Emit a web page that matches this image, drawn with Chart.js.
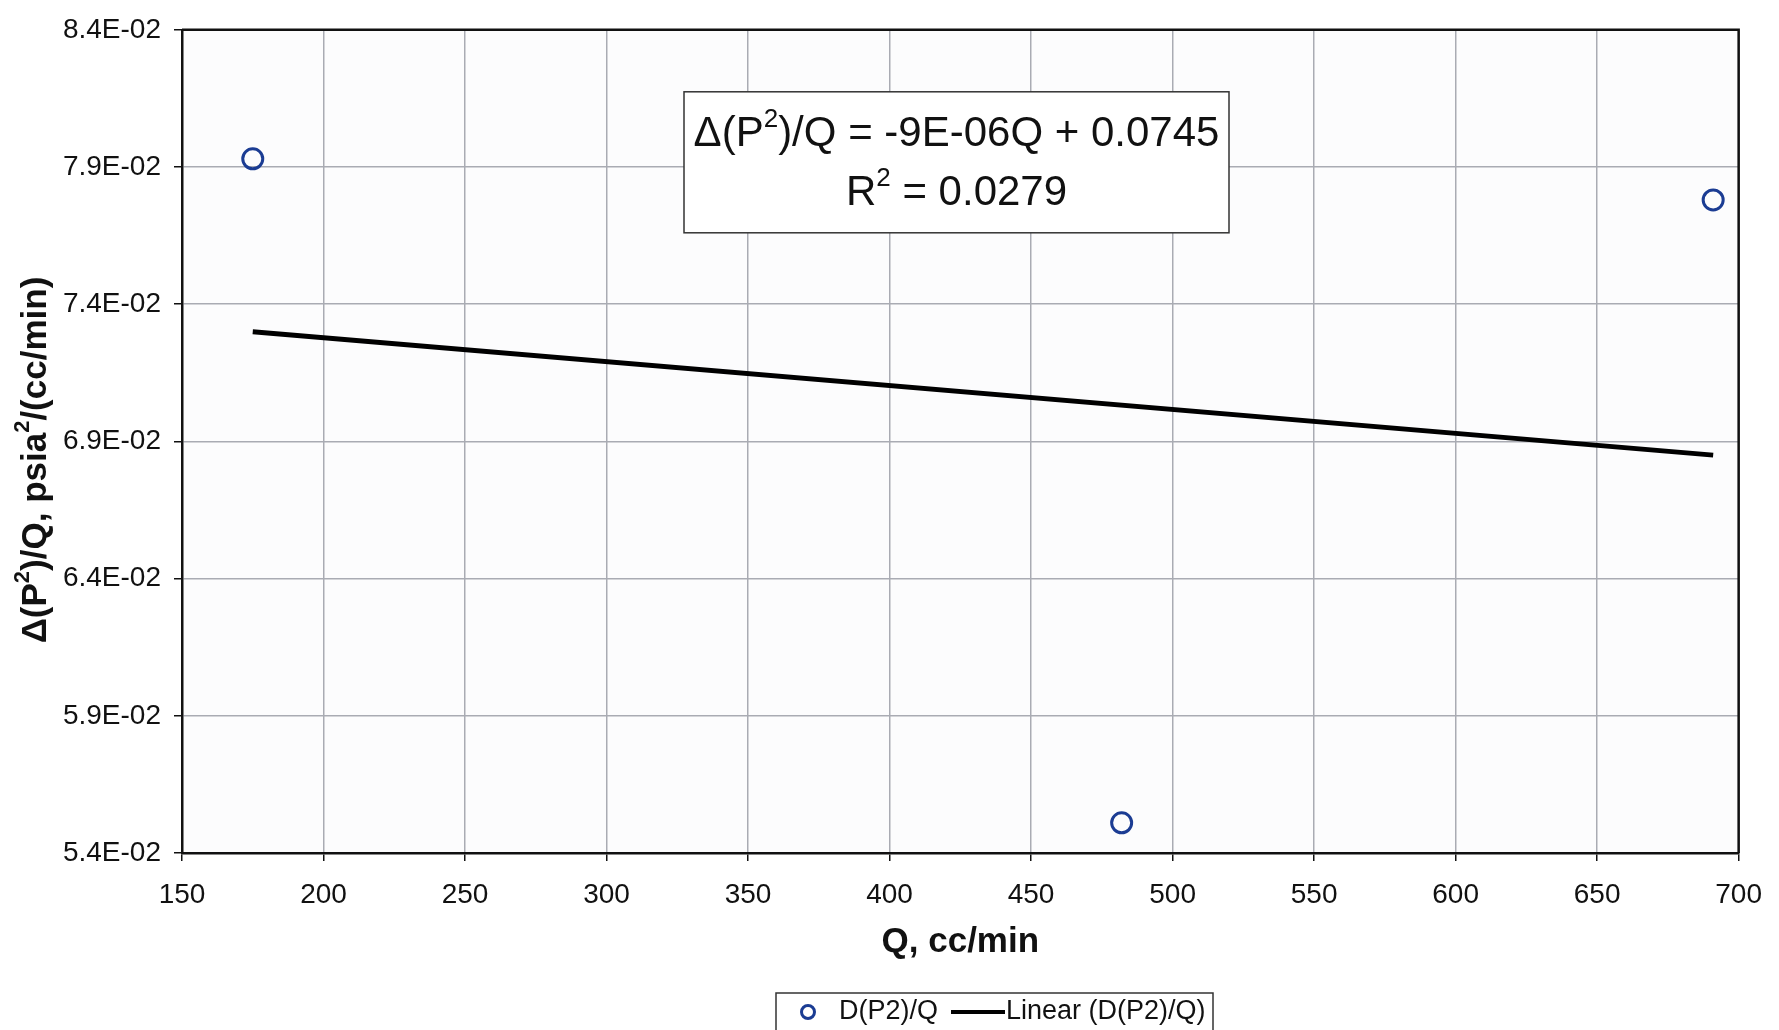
<!DOCTYPE html>
<html>
<head>
<meta charset="utf-8">
<script src="https://cdn.jsdelivr.net/npm/chart.js@4/dist/chart.umd.min.js"></script>
<style>
  html, body { margin: 0; padding: 0; background: #ffffff; }
  #wrap { width: 1779px; height: 1030px; position: relative; }
  canvas { display: block; }
</style>
</head>
<body>
<div id="wrap"><canvas id="c" width="1779" height="1030"></canvas></div>
<script>
// ---- data ----
const seriesLabel = 'D(P2)/Q';
const trendLabel = 'Linear (D(P2)/Q)';
const qValues = [175, 482, 691];
const dpValues = [0.0793, 0.0551, 0.0778];
const trendQ = [175, 691];
const trendDp = [0.0730, 0.0685];
const xTicks = [150, 200, 250, 300, 350, 400, 450, 500, 550, 600, 650, 700];
const yTicks = [0.054, 0.059, 0.064, 0.069, 0.074, 0.079, 0.084];
const yTickLabels = ['5.4E-02', '5.9E-02', '6.4E-02', '6.9E-02', '7.4E-02', '7.9E-02', '8.4E-02'];
const xTitle = 'Q, cc/min';
// text parts: [text, isSuperscript]
const yTitleParts = [['\u0394(P', 0], ['2', 1], [')/Q, psia', 0], ['2', 1], ['/(cc/min)', 0]];
const eqLine1 = [['\u0394(P', 0], ['2', 1], [')/Q = -9E-06Q + 0.0745', 0]];
const eqLine2 = [['R', 0], ['2', 1], [' = 0.0279', 0]];

const FONT = '"Liberation Sans", Arial, Helvetica, sans-serif';
const BLUE = '#1b3c93';

function partsWidth(ctx, parts, size, bold) {
  let w = 0;
  for (const [t, sup] of parts) {
    ctx.font = (bold ? 'bold ' : '') + (sup ? Math.round(size * 0.62) : size) + 'px ' + FONT;
    w += ctx.measureText(t).width;
  }
  return w;
}
function drawParts(ctx, parts, cx, cy, size, bold) {
  const total = partsWidth(ctx, parts, size, bold);
  let x = cx - total / 2;
  ctx.textAlign = 'left';
  ctx.textBaseline = 'middle';
  for (const [t, sup] of parts) {
    const s = sup ? Math.round(size * 0.62) : size;
    ctx.font = (bold ? 'bold ' : '') + s + 'px ' + FONT;
    ctx.fillText(t, x, sup ? cy - size * 0.36 : cy);
    x += ctx.measureText(t).width;
  }
}

const extrasPlugin = {
  id: 'extras',
  afterDraw(chart) {
    const ctx = chart.ctx;
    const ca = chart.chartArea;
    ctx.save();
    // y axis title (rotated, with superscripts)
    ctx.fillStyle = '#111';
    ctx.translate(36, 460);
    ctx.rotate(-Math.PI / 2);
    drawParts(ctx, yTitleParts, 0, 0, 35, true);
    ctx.restore();

    // regression annotation box
    ctx.save();
    const bx = ca.left + 502, by = ca.top + 62, bw = 545, bh = 141;
    ctx.fillStyle = '#ffffff';
    ctx.fillRect(bx, by, bw, bh);
    ctx.strokeStyle = '#333';
    ctx.lineWidth = 1.5;
    ctx.strokeRect(bx, by, bw, bh);
    ctx.fillStyle = '#111';
    drawParts(ctx, eqLine1, bx + bw / 2, by + 43, 42, false);
    drawParts(ctx, eqLine2, bx + bw / 2, by + 102, 42, false);
    ctx.restore();

    // legend
    ctx.save();
    const ds = chart.data.datasets;
    const lx = 776, ly = 993, lw = 437, lh = 50;
    ctx.fillStyle = '#ffffff';
    ctx.fillRect(lx, ly, lw, lh);
    ctx.strokeStyle = '#333';
    ctx.lineWidth = 1.5;
    ctx.strokeRect(lx, ly, lw, lh);
    const cy = ly + 19;
    ctx.beginPath();
    ctx.arc(808, cy, 6.5, 0, Math.PI * 2);
    ctx.strokeStyle = ds[0].borderColor;
    ctx.lineWidth = 3;
    ctx.stroke();
    ctx.fillStyle = '#111';
    ctx.font = '27px ' + FONT;
    ctx.textAlign = 'left';
    ctx.textBaseline = 'middle';
    ctx.fillText(ds[0].label, 839, cy);
    ctx.beginPath();
    ctx.moveTo(951, cy);
    ctx.lineTo(1005, cy);
    ctx.strokeStyle = ds[1].borderColor;
    ctx.lineWidth = 4;
    ctx.stroke();
    ctx.fillText(ds[1].label, 1006, cy);
    ctx.restore();
  }
};

const chart = new Chart(document.getElementById('c'), {
  type: 'scatter',
  data: {
    datasets: [
      {
        label: seriesLabel,
        data: qValues.map((q, i) => ({ x: q, y: dpValues[i] })),
        borderColor: BLUE,
        backgroundColor: 'rgba(0,0,0,0)',
        pointRadius: 10,
        pointBorderWidth: 3,
        pointHoverRadius: 10,
        order: 1
      },
      {
        label: trendLabel,
        data: trendQ.map((q, i) => ({ x: q, y: trendDp[i] })),
        showLine: true,
        borderColor: '#000000',
        backgroundColor: '#000000',
        borderWidth: 5,
        pointRadius: 0,
        pointHoverRadius: 0,
        order: 2
      }
    ]
  },
  options: {
    responsive: false,
    animation: false,
    devicePixelRatio: 1,
    layout: { padding: { left: 0, top: 21, right: 31, bottom: 57 } },
    plugins: {
      legend: { display: false },
      tooltip: { enabled: false },
      title: { display: false }
    },
    scales: {
      x: {
        type: 'linear',
        min: 150,
        max: 700,
        afterBuildTicks: (s) => { s.ticks = xTicks.map(v => ({ value: v })); },
        afterFit: (s) => { s.height = 120; },
        ticks: {
          color: '#111',
          font: { family: FONT, size: 28 },
          padding: 17,
          maxRotation: 0,
          autoSkip: false,
          callback: (v) => String(v)
        },
        grid: { color: '#a9abb3', lineWidth: 1.5, tickColor: '#111', tickLength: 8 },
        border: { display: true, color: '#111', width: 2.5 },
        title: {
          display: true,
          text: xTitle,
          color: '#111',
          font: { family: FONT, size: 35, weight: 'bold' },
          padding: { top: 0, bottom: 10 }
        }
      },
      y: {
        type: 'linear',
        min: 0.054,
        max: 0.084,
        afterBuildTicks: (s) => { s.ticks = yTicks.map(v => ({ value: v })); },
        afterFit: (s) => { s.width = 182; },
        ticks: {
          color: '#111',
          font: { family: FONT, size: 28 },
          padding: 13,
          autoSkip: false,
          callback: (v) => {
            const i = yTicks.findIndex(t => Math.abs(t - v) < 1e-9);
            return i >= 0 ? yTickLabels[i] : '';
          }
        },
        grid: { color: '#a9abb3', lineWidth: 1.5, tickColor: '#111', tickLength: 8 },
        border: { display: true, color: '#111', width: 2.5 }
      }
    }
  },
  plugins: [
    extrasPlugin,
    {
      id: 'frame',
      beforeDraw(chart) {
        const { ctx, chartArea: ca } = chart;
        ctx.save();
        ctx.fillStyle = '#fcfcfd';
        ctx.fillRect(ca.left, ca.top, ca.right - ca.left, ca.bottom - ca.top);
        ctx.restore();
      },
      afterDatasetsDraw(chart) {
        const { ctx, chartArea: ca } = chart;
        ctx.save();
        ctx.strokeStyle = '#111';
        ctx.lineWidth = 2.5;
        ctx.beginPath();
        ctx.moveTo(ca.left, ca.top);
        ctx.lineTo(ca.right, ca.top);
        ctx.lineTo(ca.right, ca.bottom);
        ctx.stroke();
        ctx.restore();
      }
    }
  ]
});
</script>
</body>
</html>
